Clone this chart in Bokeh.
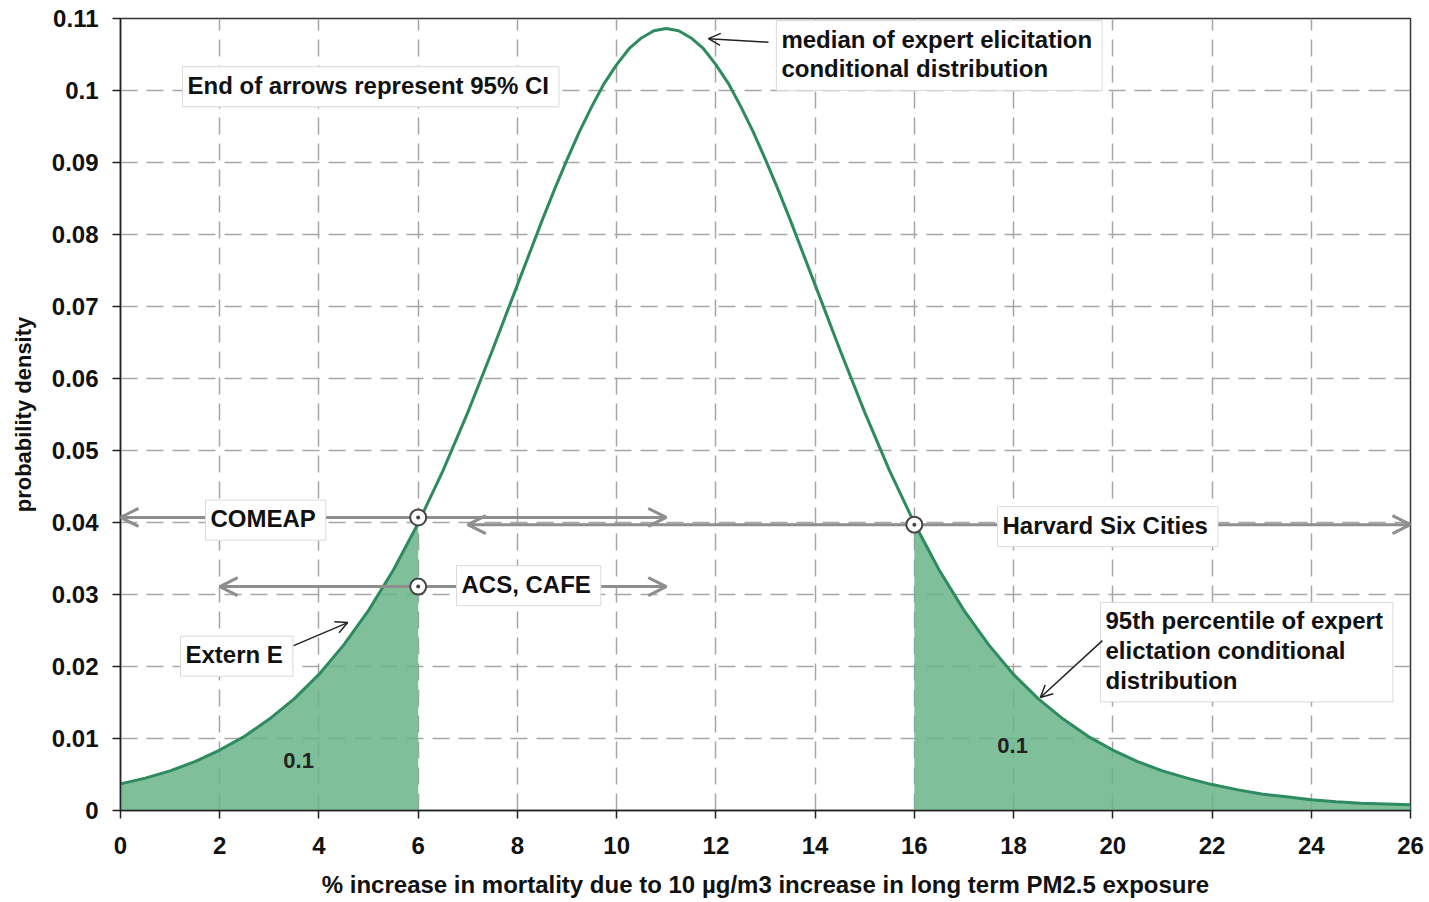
from bokeh.plotting import figure
from bokeh.models import Range1d, FixedTicker, Arrow, OpenHead, Label, ColumnDataSource
from bokeh.embed import file_html
from bokeh.resources import INLINE

# ---- data ----
x_pct = [0, 0.5, 1, 1.5, 2, 2.5, 3, 3.5, 4, 4.5, 5, 5.5, 6, 6.5, 7, 7.5, 8, 8.5, 8.75, 9,
         9.25, 9.5, 9.75, 10, 10.25, 10.5, 10.75, 11, 11.25, 11.5, 11.75, 12, 12.25, 12.5,
         12.75, 13, 13.25, 13.5, 14, 14.5, 15, 15.5, 16, 16.5, 17, 17.5,
         18, 18.5, 19, 19.5, 20, 20.5, 21, 21.5, 22, 22.5, 23, 23.5, 24, 24.5, 25, 25.5, 26]
density = [0.0037, 0.0045, 0.0055, 0.0068, 0.0084, 0.0103, 0.0127, 0.0155, 0.0189, 0.0230,
           0.0278, 0.0334, 0.0399, 0.0472, 0.0553, 0.0640, 0.0730, 0.0820, 0.0863, 0.0904,
           0.0943, 0.0978, 0.1010, 0.1036, 0.1058, 0.1073, 0.1083, 0.1086, 0.1083, 0.1073,
           0.1058, 0.1036, 0.1010, 0.0978, 0.0943, 0.0904, 0.0863, 0.0820, 0.0730, 0.0640,
           0.0553, 0.0472, 0.0399, 0.0334, 0.0278, 0.0230, 0.0189, 0.0155, 0.0127, 0.0103,
           0.0084, 0.0068, 0.0055, 0.0045, 0.0036, 0.0029, 0.0023, 0.0019, 0.0015, 0.0012,
           0.0010, 0.0009, 0.0008]
lower_cut = 6
upper_cut = 16
tail_area_text = "0.1"

study_names = ["COMEAP", "ACS, CAFE", "Harvard Six Cities"]
study_central = [6, 6, 16]
study_low = [0, 2, 7]
study_high = [11, 11, 26]
study_level = [0.0407, 0.0311, 0.0397]

x_ticks = [0, 2, 4, 6, 8, 10, 12, 14, 16, 18, 20, 22, 24, 26]
y_ticks = [0, 0.01, 0.02, 0.03, 0.04, 0.05, 0.06, 0.07, 0.08, 0.09, 0.1, 0.11]
y_tick_labels = ["0", "0.01", "0.02", "0.03", "0.04", "0.05", "0.06", "0.07", "0.08",
                 "0.09", "0.1", "0.11"]

FONT = "Liberation Sans"
LINE_GREEN = "#2e8a5f"
FILL_GREEN = "#69b58a"
GRAY = "#8e8e8e"

p = figure(width=1429, height=902, output_backend="svg", toolbar_location=None,
           x_range=Range1d(0, 26), y_range=Range1d(0, 0.11),
           min_border_left=120, min_border_right=19, min_border_top=18, min_border_bottom=92)
p.background_fill_color = "white"
p.border_fill_color = "white"
p.outline_line_color = "#333333"
p.outline_line_width = 1.5

# grid
for g in (p.xgrid, p.ygrid):
    g.grid_line_color = "#a6a6a6"
    g.grid_line_dash = "17 9"
    g.grid_line_width = 1.5
p.xgrid.ticker = FixedTicker(ticks=x_ticks)
p.ygrid.ticker = FixedTicker(ticks=y_ticks)

# axes
p.xaxis.ticker = FixedTicker(ticks=x_ticks)
p.yaxis.ticker = FixedTicker(ticks=y_ticks)
p.yaxis.major_label_overrides = {t: s for t, s in zip(y_ticks, y_tick_labels)}
for ax in (p.xaxis[0], p.yaxis[0]):
    ax.axis_line_color = "#222222"
    ax.axis_line_width = 1.5
    ax.major_tick_line_color = "#222222"
    ax.major_tick_line_width = 1.5
    ax.major_tick_out = 8
    ax.major_tick_in = 0
    ax.minor_tick_line_color = None
    ax.major_label_text_font = FONT
    ax.major_label_text_font_style = "bold"
    ax.major_label_text_font_size = "24px"
    ax.major_label_text_color = "#111111"
    ax.axis_label_text_font = FONT
    ax.axis_label_text_font_style = "bold"
    ax.axis_label_text_color = "#111111"
p.xaxis.major_label_standoff = 18
p.yaxis.major_label_standoff = 14
p.xaxis.axis_label = "% increase in mortality due to 10 µg/m3 increase in long term PM2.5 exposure"
p.xaxis.axis_label_text_font_size = "24px"
p.xaxis.axis_label_standoff = 14
p.yaxis.axis_label = "probability density"
p.yaxis.axis_label_text_font_size = "22px"
p.yaxis.axis_label_standoff = 13

# shaded tails
lx = [x for x in x_pct if x <= lower_cut]
ly = [d for x, d in zip(x_pct, density) if x <= lower_cut]
rx = [x for x in x_pct if x >= upper_cut]
ry = [d for x, d in zip(x_pct, density) if x >= upper_cut]
p.varea(x=lx, y1=[0] * len(lx), y2=ly, fill_color=FILL_GREEN, fill_alpha=0.85)
p.varea(x=rx, y1=[0] * len(rx), y2=ry, fill_color=FILL_GREEN, fill_alpha=0.85)
p.line(x_pct, density, line_color=LINE_GREEN, line_width=3)

# study CI arrows
for lo, hi, lev in zip(study_low, study_high, study_level):
    p.add_layout(Arrow(x_start=lo, y_start=lev, x_end=hi, y_end=lev,
                       line_color=GRAY, line_width=3,
                       start=OpenHead(size=18, line_color=GRAY, line_width=3),
                       end=OpenHead(size=18, line_color=GRAY, line_width=3)))
pts = ColumnDataSource(dict(x=study_central, y=study_level))
r = p.scatter("x", "y", source=pts, marker="circle_dot", size=16, fill_color="white",
              line_color="#444444", line_width=2)
r.level = "overlay"

def box_label(x, y, text):
    p.add_layout(Label(x=x, y=y, text=text, anchor="top_left",
                       text_font=FONT, text_font_style="bold", text_font_size="24px",
                       text_color="#111111", text_line_height=1.1,
                       background_fill_color="white", border_line_color="#dadada",
                       border_line_width=1, padding=(5, 10, 5, 8)))

box_label(1.25, 0.1033, "End of arrows represent 95% CI")
box_label(13.22, 0.1097, "median of expert elicitation\nconditional distribution")
box_label(1.713, 0.0431, study_names[0])
box_label(6.772, 0.0340, study_names[1])
box_label(17.676, 0.0422, study_names[2])
box_label(1.209, 0.0242, "Extern E")
box_label(19.752, 0.0289, "95th percentile of expert\nelictation conditional\ndistribution")

for tx, ty in [(3.59, 0.0069), (17.98, 0.0090)]:
    p.add_layout(Label(x=tx, y=ty, text=tail_area_text, text_align="center",
                       text_baseline="middle", text_font=FONT, text_font_style="bold",
                       text_font_size="22px", text_color="#222222"))

# pointer arrows
for xs, ys, xe, ye in [(13.06, 0.1067, 11.85, 0.1072),
                       (3.49, 0.0229, 4.58, 0.0261),
                       (19.79, 0.0236, 18.54, 0.0157)]:
    p.add_layout(Arrow(x_start=xs, y_start=ys, x_end=xe, y_end=ye,
                       line_color="#222222", line_width=1.5,
                       end=OpenHead(size=12, line_color="#222222", line_width=1.5)))

open("out.html", "w").write(file_html(p, INLINE))
